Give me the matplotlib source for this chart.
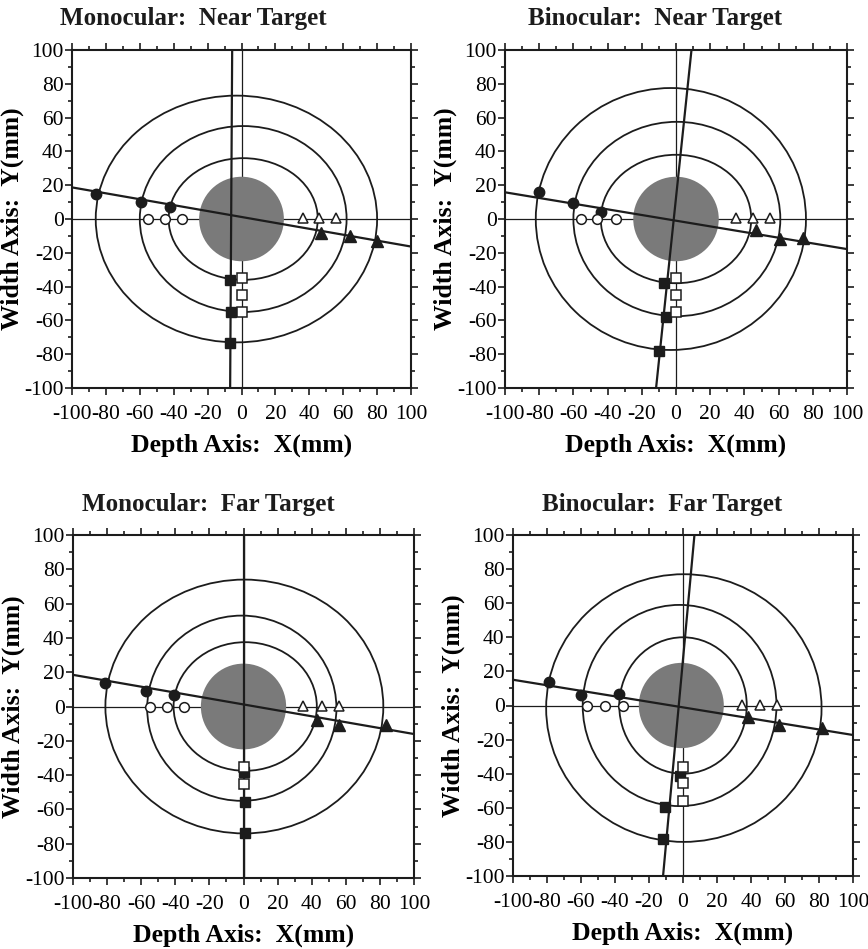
import matplotlib
matplotlib.use("Agg")
import matplotlib.pyplot as plt
import matplotlib.patches as mpatches
import numpy as np

plt.rcParams["font.family"] = ["Liberation Serif", "DejaVu Serif"]
plt.rcParams["axes.unicode_minus"] = False

# Panel order: mono near, bino near, mono far, bino far
titles = ["Monocular:  Near Target", "Binocular:  Near Target",
          "Monocular:  Far Target", "Binocular:  Far Target"]

# filled circles (left side)
fc_x = [[-86, -59, -42], [-80, -60, -44], [-81, -57, -41], [-79, -60, -37.5]]
fc_y = [[15, 10, 7], [16, 9.5, 4], [13.6, 9.3, 6.8], [13.7, 6.3, 6.7]]
# open circles on y=0
oc_x = [[-55, -45, -35], [-55.5, -46, -35], [-55, -45, -35], [-56.5, -46, -35.5]]
# open triangles on y=0
ot_x = [[36, 46, 56], [35, 45, 55], [35, 46, 56], [34.5, 45, 55]]
# filled triangles (right side)
ft_x = [[47, 64, 80], [47, 61, 74], [43, 56, 83.5], [38.5, 56.5, 81.5]]
ft_y = [[-8, -10, -13], [-6.5, -12, -11.5], [-8, -11, -11], [-7, -11.5, -13]]
# filled squares (bottom)
fs_x = [[-7, -6, -7], [-7, -6, -10], [0.5, 1, 1], [-1.5, -10.5, -11.5]]
fs_y = [[-36, -55, -73.5], [-38, -58, -78], [-38, -55.5, -74], [-41.5, -59.5, -78.5]]
# open squares near x=0
os_x = [[0, 0, 0], [0, 0, 0], [0.5, 0.5], [0, 0, 0]]
os_y = [[-35, -45, -55], [-35, -45, -55], [-35, -45], [-36, -45.5, -56]]

# fitted lines: y = slope*x + icpt ; x = vx0 + vxk*y
slope = [-0.175, -0.168, -0.1725, -0.162]
icpt = [1.2, -1.0, 1.2, -1.1]
vx0 = [-6.1, -1.3, 0.5, -2.5]
vxk = [0.006, 0.1035, 0.0, 0.0923]

# rings (ellipses): centre x, centre y, half-width, half-height
ring_cx = [[1, 1, -3], [0, 0.5, -3], [1, -1, 0.5], [0, -2, 0.5]]
ring_cy = [[0, 0, 0], [0, 0, 0], [0, -1, 0], [0, 0, -1.5]]
ring_a = [[44, 61, 83], [44, 60.5, 79], [42, 55.5, 81.5], [37.5, 57, 81]]
ring_b = [[36, 55, 73], [38, 57.5, 77.5], [37.5, 54, 74], [40, 59, 78.5]]
disk_r = 25
disk_cx = [0, 0, 0, -1]

ticks = np.arange(-100, 101, 20)

fig = plt.figure(figsize=(8.68, 9.49), dpi=100)
W, H = 868, 949
boxes = [(72, 50, 339, 338), (505, 50, 342, 338), (73, 535, 341, 343), (513, 535, 340, 341)]
title_pos = [(193, 18), (655, 18), (208, 505), (662, 505)]

ink = "#1c1c1c"

for i, (l, t, w, h) in enumerate(boxes):
    ax = fig.add_axes([l / W, 1 - (t + h) / H, w / W, h / H])
    ax.set_xlim(-100, 100)
    ax.set_ylim(-100, 100)

    ax.axhline(0, color=ink, lw=0.9, zorder=1)
    ax.axvline(0, color=ink, lw=0.9, zorder=1)

    ax.add_patch(mpatches.Circle((disk_cx[i], 0), disk_r, facecolor="#7a7a7a",
                                 edgecolor="none", zorder=2))
    for cx, cy, a, b in zip(ring_cx[i], ring_cy[i], ring_a[i], ring_b[i]):
        ax.add_patch(mpatches.Ellipse((cx, cy), 2 * a, 2 * b, fill=False,
                                      edgecolor=ink, lw=1.3, zorder=3))

    xx = np.array([-100, 100])
    ax.plot(xx, slope[i] * xx + icpt[i], color=ink, lw=1.6, zorder=4)
    yy = np.array([-100, 100])
    ax.plot(vx0[i] + vxk[i] * yy, yy, color=ink, lw=1.6, zorder=4)

    ax.plot(fc_x[i], fc_y[i], "o", ms=7.5, color=ink, zorder=5)
    ax.plot(oc_x[i], [0] * len(oc_x[i]), "o", ms=7, mfc="white", mec=ink, mew=1.1, zorder=5)
    ax.plot(ot_x[i], [0.5] * len(ot_x[i]), "^", ms=7.5, mfc="white", mec=ink, mew=1.1, zorder=5)
    ax.plot(ft_x[i], ft_y[i], "^", ms=8.5, color=ink, zorder=5)
    ax.plot(fs_x[i], fs_y[i], "s", ms=7.5, color=ink, zorder=5)
    ax.plot(os_x[i], os_y[i], "s", ms=7, mfc="white", mec=ink, mew=1.1, zorder=5)

    ax.set_xticks(ticks)
    ax.set_yticks(ticks)
    ax.set_xticks(np.arange(-100, 101, 10), minor=True)
    ax.set_yticks(np.arange(-100, 101, 10), minor=True)
    ax.tick_params(which="both", direction="out", top=True, right=True,
                   width=1.2, color=ink, labelsize=15.5)
    ax.tick_params(which="major", length=5)
    ax.tick_params(which="minor", length=3)
    ax.tick_params(axis="x", which="major", pad=7)
    ax.tick_params(axis="y", which="major", pad=1)
    for s in ax.spines.values():
        s.set_linewidth(1.5)
        s.set_color(ink)

    ax.set_xlabel("Depth Axis:  X(mm)", fontsize=18.5, fontweight="bold", labelpad=7)
    ax.set_ylabel("Width Axis:  Y(mm)", fontsize=18.5, fontweight="bold", labelpad=0)

    tx, ty = title_pos[i]
    fig.text(tx / W, 1 - ty / H, titles[i], fontsize=18, fontweight="bold",
             ha="center", va="center", color=ink)

fig.savefig("out.png", dpi=100)
